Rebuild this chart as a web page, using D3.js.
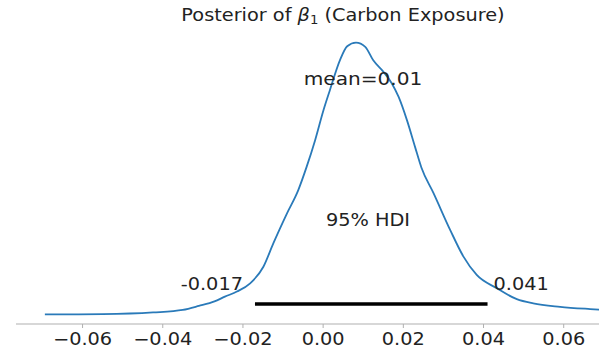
<!DOCTYPE html>
<html>
<head>
<meta charset="utf-8">
<script src="https://cdn.jsdelivr.net/npm/d3@7"></script>
<style>
  body { margin: 0; background: #fff; }
  text { font-family: "DejaVu Sans", sans-serif; fill: #222; }
</style>
</head>
<body>
<div id="chart"></div>
<script>
// posterior density samples (x value, relative density)
const xVals = [-0.0694, -0.0550, -0.0424, -0.0350, -0.0310, -0.0271, -0.0245, -0.0215, -0.0182,
  -0.0149, -0.0124, -0.0091, -0.0062, -0.0041, -0.0020, 0.0001, 0.0017, 0.0042, 0.0060, 0.0082,
  0.0105, 0.0125, 0.0150, 0.0171, 0.0188, 0.0209, 0.0229, 0.0245, 0.0275, 0.0317, 0.0350,
  0.0383, 0.0433, 0.0483, 0.0524, 0.0591, 0.0666, 0.0700];
const density = [0.034, 0.035, 0.041, 0.050, 0.064, 0.080, 0.097, 0.115, 0.144,
  0.203, 0.287, 0.390, 0.475, 0.558, 0.652, 0.759, 0.830, 0.936, 0.985, 0.998,
  0.983, 0.935, 0.895, 0.854, 0.806, 0.723, 0.629, 0.555, 0.465, 0.333, 0.239,
  0.174, 0.127, 0.088, 0.073, 0.061, 0.053, 0.050];
const ticks = [-0.06, -0.04, -0.02, 0.00, 0.02, 0.04, 0.06];
const hdi = [-0.017, 0.041];
const meanVal = 0.01;

const width = 599, height = 351;
const sx = 1.15; // glyphs in the picture are a bit wider than tall

const svg = d3.select("#chart").append("svg")
    .attr("width", width)
    .attr("height", height);

const x = d3.scaleLinear().domain([-0.0766, 0.0688]).range([16, 599]);
const y = d3.scaleLinear().domain([0, 1]).range([324, 42]);

function label(txt, px, py, anchor, size) {
    return svg.append("text")
        .attr("transform", `translate(${px},${py}) scale(${sx},1)`)
        .attr("text-anchor", anchor)
        .style("font-size", size + "px")
        .text(txt);
}

// x axis
const axis = svg.append("g").attr("transform", "translate(0,324)");
axis.append("line")
    .attr("x1", 16).attr("x2", 599)
    .attr("stroke", "#b0b0b0").attr("stroke-width", 1.2);
axis.selectAll(".tick")
    .data(ticks)
    .enter().append("line")
    .attr("x1", d => x(d)).attr("x2", d => x(d))
    .attr("y1", 0).attr("y2", 4)
    .attr("stroke", "#b0b0b0").attr("stroke-width", 1);
ticks.forEach(t => {
    const s = d3.format(".2f")(t).replace("-", "\u2212");
    label(s, x(t), 345, "middle", 16.8);
});

// density curve
const line = d3.line()
    .x((d, i) => x(xVals[i]))
    .y(d => y(d))
    .curve(d3.curveMonotoneX);
svg.append("path")
    .datum(density)
    .attr("d", line)
    .attr("fill", "none")
    .attr("stroke", "#2a7ab9")
    .attr("stroke-width", 1.8);

// HDI bar
svg.append("line")
    .attr("x1", x(hdi[0])).attr("x2", x(hdi[1]))
    .attr("y1", y(0.071)).attr("y2", y(0.071))
    .attr("stroke", "#000").attr("stroke-width", 3.6);

label(String(hdi[0]), x(hdi[0]) - 12, 290, "end", 16.8);
label(String(hdi[1]), x(hdi[1]) + 6, 290, "start", 16.8);
label("95% HDI", 368, 226, "middle", 16.8);
label("mean=" + meanVal, 363, 85, "middle", 17.5);

// title
const title = svg.append("text")
    .attr("transform", `translate(343,21) scale(${sx},1)`)
    .attr("text-anchor", "middle")
    .style("font-size", "16.8px");
title.append("tspan").text("Posterior of ");
title.append("tspan").style("font-style", "italic").text("\u03B2");
title.append("tspan").attr("dy", 3).style("font-size", "11.5px").text("1");
title.append("tspan").attr("dy", -3).text(" (Carbon Exposure)");
</script>
</body>
</html>
